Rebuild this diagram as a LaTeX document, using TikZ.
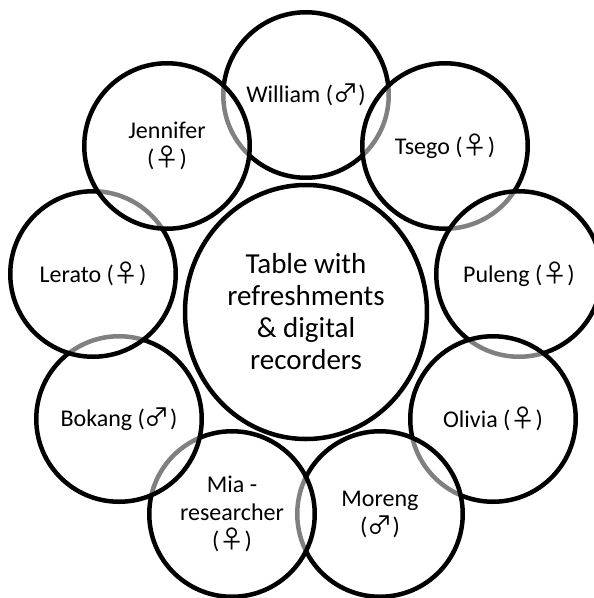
\documentclass[tikz,border=0pt]{standalone}
\usepackage{fontspec}
\setmainfont{Carlito}
\newfontfamily\symfont[Scale=1.05]{Noto Sans CJK JP}
\usetikzlibrary{shapes.geometric}
\newcommand\gmale{{\symfont ♂}}
\newcommand\gfemale{{\symfont ♀}}
\tikzset{
  seat/.style={circle, draw=black, line width=4.5pt, fill=white,
    fill opacity=0.5, text opacity=1, minimum size=165.5pt, inner sep=0pt,
    align=center, font=\fontsize{24}{28}\selectfont},
  tablebox/.style={ellipse, draw=black, line width=4.5pt, fill=white,
    minimum width=242pt, minimum height=254pt, inner sep=0pt,
    align=center, font=\fontsize{29}{32}\selectfont}
}
\begin{document}
\begin{tikzpicture}[x=1pt,y=-1pt]
  \useasboundingbox (0,0) rectangle (594,598);
  % central table
  \node[tablebox] (table) at (306,312) {Table with\\refreshments\\\& digital\\recorders};
  % seats around the table, drawn clockwise so each overlaps the previous one
  \node[seat] (william) at (306,95)  {William (\gmale)};
  \node[seat] (tsego)   at (445,146) {Tsego (\gfemale)};
  \node[seat] (puleng)  at (519,274) {Puleng (\gfemale)};
  \node[seat] (olivia)  at (493,419) {Olivia (\gfemale)};
  \node[seat] (moreng)  at (380,514) {Moreng\\(\gmale)};
  \node[seat] (mia)     at (232,514) {Mia -\\researcher\\(\gfemale)};
  \node[seat] (bokang)  at (119,419) {Bokang (\gmale)};
  \node[seat] (lerato)  at (93,274)  {Lerato (\gfemale)};
  \node[seat] (jennifer) at (167,146) {Jennifer\\(\gfemale)};
\end{tikzpicture}
\end{document}
